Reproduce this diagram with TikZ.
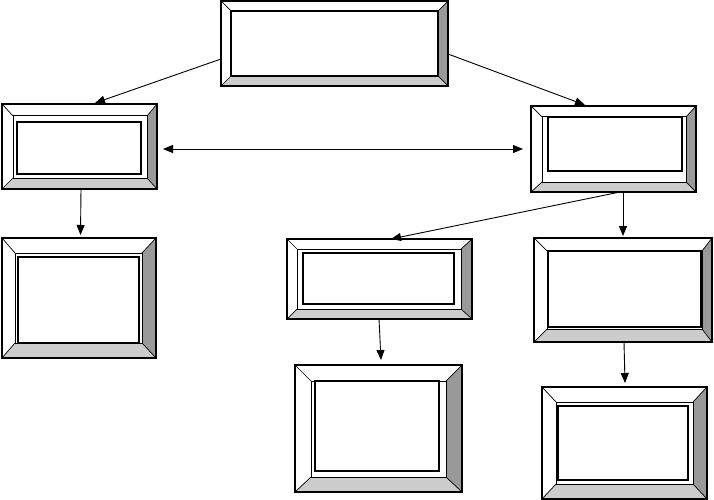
\documentclass[tikz,border=0pt]{standalone}
\usetikzlibrary{arrows.meta,fit}
\definecolor{bevdark}{HTML}{999999}
\definecolor{bevlight}{HTML}{CCCCCC}
\tikzset{
  outerline/.style={draw=black,line width=1.1pt},
  innerline/.style={draw=black,line width=1pt},
  textline/.style={draw=black,line width=1.8pt},
  diag/.style={draw=black,line width=0.7pt},
  arr/.style={draw=black,line width=0.9pt,-{Triangle[length=10pt,width=8pt]}},
  dbl/.style={draw=black,line width=0.9pt,{Triangle[length=10pt,width=8pt]}-{Triangle[length=10pt,width=8pt]}},
}
% #1 name, #2 outer top-left, #3 outer bottom-right, #4 inner top-left, #5 inner bottom-right
\newcommand\bevelframe[5]{%
  \coordinate (#1oa) at (#2);
  \coordinate (#1ob) at (#3);
  \coordinate (#1ia) at (#4);
  \coordinate (#1ib) at (#5);
  \fill[white] (#1oa) rectangle (#1ob);
  \fill[bevdark] (#1oa -| #1ob) -- (#1ob) -- (#1ib) -- (#1ia -| #1ib) -- cycle;
  \fill[bevlight] (#1ob -| #1oa) -- (#1ob) -- (#1ib) -- (#1ib -| #1ia) -- cycle;
  \draw[diag] (#1oa) -- (#1ia);
  \draw[diag] (#1oa -| #1ob) -- (#1ia -| #1ib);
  \draw[diag] (#1ob) -- (#1ib);
  \draw[diag] (#1ob -| #1oa) -- (#1ib -| #1ia);
  \draw[innerline] (#1ia) rectangle (#1ib);
  \draw[outerline] (#1oa) rectangle (#1ob);
  \node[inner sep=0pt,outer sep=0pt,fit=(#1oa)(#1ob)] (#1) {};
}
\begin{document}
\begin{tikzpicture}[x=1pt,y=-1pt]
\useasboundingbox (0,0) rectangle (714,500);

% frames
\bevelframe{top}{221,1}{448,86}{231,11}{438,76}
\draw[draw=black,line width=1.6pt] (topia) rectangle (topib);
\bevelframe{la}{2,104}{157,189}{13,116}{147,178}
\draw[textline] (17,122) rectangle (141,174);
\bevelframe{lb}{2,238}{156,358}{15,253}{142,343}
\draw[textline] (18,257) rectangle (139,343);
\bevelframe{ra}{531,106}{696,192}{542,117}{686,182}
\draw[textline] (548,117) rectangle (682,171);
\bevelframe{rb}{534,238}{712,342}{547,251}{702,329}
\draw[textline] (548,251) rectangle (701,327);
\bevelframe{ma}{287,239}{472,319}{297,249}{461,309}
\draw[textline] (303,253) rectangle (454,304);
\bevelframe{mb}{295,365}{462,492}{311,381}{446,477}
\draw[textline] (315,381) rectangle (439,471);
\bevelframe{rc}{542,387}{707,499}{556,402}{693,484}
\draw[textline] (558,406) rectangle (688,480);

% connectors
\draw[arr] ([yshift=-15.5pt]top.west) -- ([xshift=15.5pt,yshift=1pt]la.north);
\draw[arr] ([yshift=-10.5pt]top.east) -- ([xshift=-28.5pt,yshift=1pt]ra.north);
\draw[dbl] ([xshift=6pt]la.east |- ra.west) -- ([xshift=-8pt]ra.west);
\draw[arr] ([xshift=1.5pt]la.south) -- ([xshift=1.5pt,yshift=3pt]lb.north);
\draw[arr] ([xshift=6.5pt]ra.south) -- ([xshift=11.5pt]ma.north);
\draw[arr] ([xshift=9.5pt]ra.south) -- ([xshift=0pt,yshift=2pt]rb.north);
\draw[arr] ([xshift=-0.5pt]ma.south) -- ([xshift=2.5pt,yshift=5pt]mb.north);
\draw[arr] ([xshift=1pt]rb.south) -- ([xshift=0.5pt,yshift=4pt]rc.north);
\end{tikzpicture}
\end{document}
